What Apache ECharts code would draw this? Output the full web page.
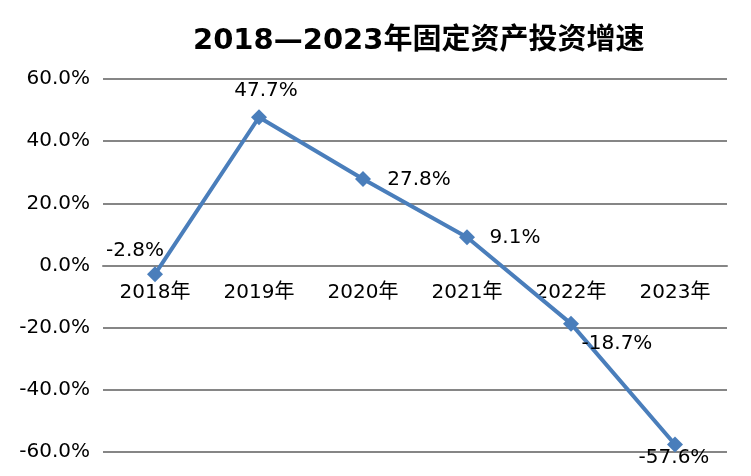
<!DOCTYPE html>
<html>
<head>
<meta charset="utf-8">
<script src="https://cdn.jsdelivr.net/npm/echarts@6/dist/echarts.min.js"></script>
<style>
  html, body { margin: 0; padding: 0; background: #fff; }
  #chart { width: 751px; height: 476px; }
</style>
</head>
<body>
<div id="chart"></div>
<script>
// Data
var years = ['2018年', '2019年', '2020年', '2021年', '2022年', '2023年'];
var growth = [-2.8, 47.7, 27.8, 9.1, -18.7, -57.6];
var yTicks = [-60, -40, -20, 0, 20, 40, 60];

// label placement (styling only)
var labelOffsets = [[-20, -23], [7, -26], [56, 1], [48, 1], [46, 20], [-1, 13]];

var chart = echarts.init(document.getElementById('chart'));

chart.setOption({
    animation: false,
    textStyle: {
        fontFamily: 'DejaVu Sans, sans-serif'
    },
    title: {
        text: '2018—2023年固定资产投资增速',
        left: 188,
        top: 22,
        textStyle: {
            fontSize: 29,
            fontWeight: 'bold',
            color: '#000',
            fontFamily: 'DejaVu Sans, Noto Sans CJK SC, sans-serif'
        }
    },
    grid: {
        left: 103,
        right: 24,
        top: 79,
        bottom: 24,
        containLabel: false,
        outerBoundsMode: 'none'
    },
    xAxis: {
        type: 'category',
        data: years,
        boundaryGap: true,
        position: 'bottom',
        offset: -186,
        axisLine: { onZero: false, lineStyle: { color: '#868686', width: 2 } },
        axisTick: { show: false },
        axisLabel: {
            color: '#000',
            fontSize: 20,
            margin: 17,
            fontFamily: 'DejaVu Sans, Noto Sans CJK SC, sans-serif'
        }
    },
    yAxis: {
        type: 'value',
        min: yTicks[0],
        max: yTicks[yTicks.length - 1],
        interval: 20,
        axisLine: { show: false },
        axisTick: { show: false },
        axisLabel: {
            color: '#000',
            fontSize: 20,
            margin: 13,
            formatter: function (v) { return v.toFixed(1) + '%'; }
        },
        splitLine: {
            lineStyle: { color: '#868686', width: 2 }
        }
    },
    series: [{
        type: 'line',
        data: growth.map(function (v, i) {
            return {
                value: v,
                label: { offset: labelOffsets[i] }
            };
        }),
        symbol: 'diamond',
        symbolSize: 16,
        lineStyle: { color: '#4a7ebb', width: 4 },
        itemStyle: { color: '#4a7ebb' },
        label: {
            show: true,
            position: 'inside',
            color: '#000',
            fontSize: 20,
            formatter: function (p) { return p.value.toFixed(1) + '%'; }
        }
    }]
});
</script>
</body>
</html>
